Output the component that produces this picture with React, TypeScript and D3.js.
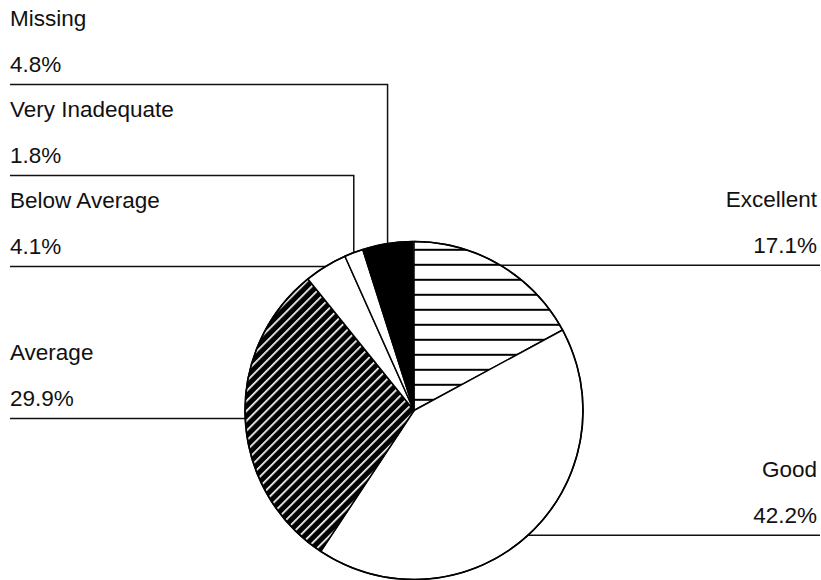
import React from "react";
import * as d3 from "d3";

const categories = ["Excellent", "Good", "Average", "Below Average", "Very Inadequate", "Missing"];
const values = [17.1, 42.2, 29.9, 4.1, 1.8, 4.8];
const valueLabels = ["17.1%", "42.2%", "29.9%", "4.1%", "1.8%", "4.8%"];
const fills = ["url(#hatchH)", "#fff", "url(#hatchD)", "#fff", "#fff", "#000"];

const W = 821;
const H = 580;
const cx = 414;
const cy = 410.5;
const R = 169;
const FONT = "'Liberation Sans', Arial, sans-serif";

export default function App() {
  const total = d3.sum(values);
  const pie = d3
    .pie<number>()
    .sort(null)
    .value((d) => d)
    .startAngle(0)
    .endAngle((2 * Math.PI * total) / 100);
  const arcs = pie(values);
  const arcGen = d3.arc<d3.PieArcDatum<number>>().innerRadius(0).outerRadius(R);
  const mid = (a: d3.PieArcDatum<number>) => {
    const m = (a.startAngle + a.endAngle) / 2;
    return [cx + R * Math.sin(m), cy - R * Math.cos(m)];
  };

  const leaders: JSX.Element[] = [];
  const texts: JSX.Element[] = [];
  const tStyle = { fontFamily: FONT, fontSize: 22.5, fill: "#111" };

  const baseLeftY = mid(arcs[3])[1];
  arcs.forEach((a, i) => {
    const [px, py] = mid(a);
    let ly = py;
    const right = i < 2;
    let path = "";
    if (i === 0 || i === 1) {
      path = `M${px},${ly}H${W - 1}`;
    } else if (i === 2) {
      path = `M10,${ly}H${px}`;
    } else {
      const k = i - 3;
      ly = baseLeftY - 91 * k;
      path = k === 0 ? `M10,${ly}H${px}` : `M10,${ly}H${px}V${py}`;
    }
    leaders.push(<path key={"l" + i} d={path} fill="none" stroke="#111" strokeWidth={1.5} />);
    const tx = right ? 817 : 10;
    const anchor = right ? "end" : "start";
    texts.push(
      <text key={"n" + i} x={tx} y={ly - 58} textAnchor={anchor} style={tStyle}>
        {categories[i]}
      </text>,
      <text key={"v" + i} x={tx} y={ly - 12} textAnchor={anchor} style={tStyle}>
        {valueLabels[i]}
      </text>
    );
  });

  return (
    <svg width={W} height={H} style={{ position: "absolute", left: 0, top: 0, background: "#fff" }}>
      <defs>
        <pattern id="hatchH" patternUnits="userSpaceOnUse" width={20} height={15} y={259.3 - 1}>
          <rect width={20} height={15} fill="#fff" />
          <rect y={0} width={20} height={2} fill="#000" />
        </pattern>
        <pattern
          id="hatchD"
          patternUnits="userSpaceOnUse"
          width={20}
          height={7}
          patternTransform="rotate(-45)"
        >
          <rect width={20} height={7} fill="#000" />
          <rect y={0} width={20} height={1.7} fill="#fff" />
        </pattern>
      </defs>
      <rect width={W} height={H} fill="#fff" />
      {leaders}
      <g transform={`translate(${cx},${cy})`}>
        {arcs.map((a, i) => (
          <path key={i} d={arcGen(a) || ""} fill={fills[i]} stroke="#000" strokeWidth={1.5} strokeLinejoin="round" />
        ))}
        <circle r={R} fill="none" stroke="#000" strokeWidth={1.6} />
      </g>
      {texts}
    </svg>
  );
}
